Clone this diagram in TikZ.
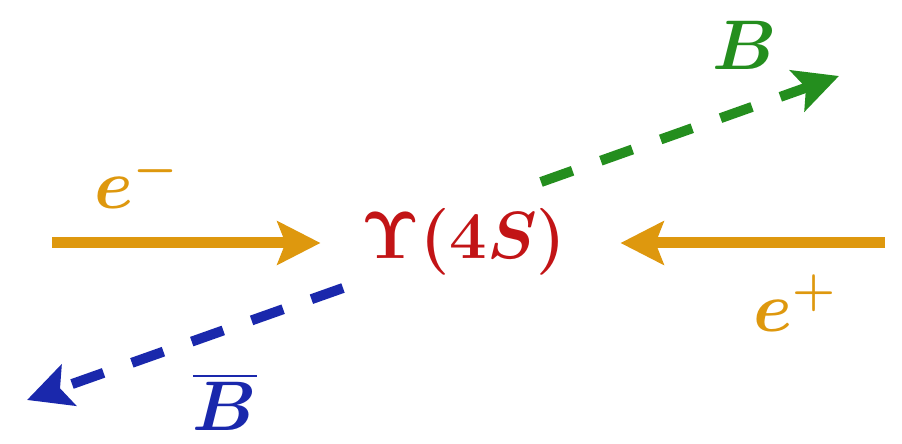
\RequirePackage{fix-cm}
\documentclass[tikz,border=0pt]{standalone}
\usepackage{amsmath}
\usetikzlibrary{arrows.meta}

\definecolor{beamorange}{RGB}{222,152,14}
\definecolor{upsred}{RGB}{194,20,22}
\definecolor{bgreen}{RGB}{36,142,30}
\definecolor{bblue}{RGB}{26,40,172}

\begin{document}
\begin{tikzpicture}[
  lbl/.style={inner sep=0pt, font=\fontsize{40}{48}\selectfont},
  beam/.style={line width=0.22cm, beamorange, -{Stealth[length=0.86cm, width=0.86cm, inset=0.16cm]}},
  meson/.style={line width=0.2cm, dash pattern=on 0.67cm off 0.6cm, -{Stealth[length=0.88cm, width=0.86cm, inset=0.18cm]}}]
  \useasboundingbox (0,0) rectangle (18.04,8.86);

  % centre of the collision
  \node[lbl, text=upsred, font=\fontsize{38}{46}\selectfont] (ups) at (9.28,4.02) {$\boldsymbol{\Upsilon(4S)}$};

  % incoming beams
  \coordinate (ein) at (1.04,4.00);
  \coordinate (pin) at (17.70,4.00);
  \draw[beam, shorten >=0.82cm] (ein) -- (ups.west |- ein);
  \draw[beam, shorten >=1.08cm] (pin) -- (ups.east |- pin);
  \node[lbl, text=beamorange] (em) at (2.72,5.25) {$\boldsymbol{e^-}$};
  \node[lbl, text=beamorange] (ep) at (15.90,2.80) {$\boldsymbol{e^+}$};

  % outgoing mesons
  \coordinate (bstart) at (10.82,5.22);
  \coordinate (bend) at (16.78,7.34);
  \coordinate (bbstart) at (6.86,3.10);
  \coordinate (bbend) at (0.54,0.86);
  \draw[meson, bgreen] (bstart) -- (bend);
  \draw[meson, bblue] (bbstart) -- (bbend);
  \node[lbl, text=bgreen] (b) at (14.90,7.95) {$\boldsymbol{B}$};
  \node[lbl, text=bblue] (bb) at (4.50,0.82) {$\boldsymbol{\overline{B}}$};
\end{tikzpicture}
\end{document}
